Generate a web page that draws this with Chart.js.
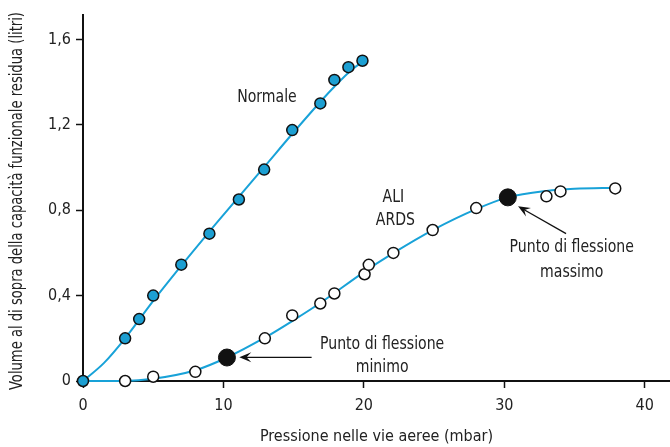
<!DOCTYPE html>
<html>
<head>
<meta charset="utf-8">
<script src="https://cdn.jsdelivr.net/npm/chart.js@4.4.1/dist/chart.umd.min.js"></script>
<style>
html,body{margin:0;padding:0;background:#fff;}
#wrap{width:670px;height:447px;position:relative;}
</style>
</head>
<body>
<div id="wrap"><canvas id="c" width="670" height="447"></canvas></div>
<script>
// ---- Data ----
const normalX = [0, 3, 4, 5, 7, 9, 11.1, 12.9, 14.9, 16.9, 17.9, 18.9, 19.9];
const normalY = [0, 0.20, 0.29, 0.40, 0.545, 0.69, 0.85, 0.99, 1.175, 1.30, 1.41, 1.47, 1.50];

const ardsX = [3, 5, 8, 12.95, 14.9, 16.9, 17.9, 20.05, 20.35, 22.1, 24.9, 28.0, 33.0, 34.0, 37.9];
const ardsY = [0, 0.02, 0.043, 0.20, 0.307, 0.363, 0.41, 0.50, 0.544, 0.60, 0.707, 0.81, 0.865, 0.888, 0.902];

const inflX = [10.25, 30.25];
const inflY = [0.11, 0.86];

// smooth fitted curves
const normalCurveX = [0, 1.5, 3, 5, 7, 9, 11, 13, 15, 17, 18, 19, 20];
const normalCurveY = [0, 0.085, 0.2, 0.375, 0.54, 0.70, 0.855, 1.01, 1.165, 1.315, 1.385, 1.45, 1.50];
const ardsCurveX = [0, 3, 5, 8, 10.25, 13, 15, 17, 20, 22, 25, 28, 30.25, 33, 35, 38];
const ardsCurveY = [0, 0, 0.01, 0.05, 0.11, 0.205, 0.285, 0.37, 0.51, 0.595, 0.71, 0.805, 0.86, 0.89, 0.90, 0.905];

const xTicks = [0, 10, 20, 30, 40];
const yTicks = [0, 0.4, 0.8, 1.2, 1.6];
const yTickLabels = ["0", "0,4", "0,8", "1,2", "1,6"];

const xTitle = "Pressione nelle vie aeree (mbar)";
const yTitle = "Volume al di sopra della capacità funzionale residua (litri)";

const FONT = '"Liberation Sans Narrow", "DejaVu Sans Condensed", sans-serif';
const LINE_BLUE = '#18a2d8';
const FILL_BLUE = '#1c9fd2';

const pts = (xs, ys) => xs.map((x, i) => ({x: x, y: ys[i]}));

// annotation texts (data coordinates)
const labels = [
  {text: "Normale", x: 13.1, y: 1.327},
  {text: "ALI", x: 22.1, y: 0.857},
  {text: "ARDS", x: 22.25, y: 0.749},
  {text: "Punto di flessione", x: 21.3, y: 0.172},
  {text: "minimo", x: 21.3, y: 0.062},
  {text: "Punto di flessione", x: 34.8, y: 0.623},
  {text: "massimo", x: 34.8, y: 0.508}
];
const arrows = [
  {x1: 16.28, y1: 0.111, x2: 11.13, y2: 0.111},
  {x1: 34.4, y1: 0.690, x2: 30.98, y2: 0.818}
];

function condensedText(ctx, text, x, y, sx) {
  ctx.save();
  ctx.translate(x, y);
  ctx.scale(sx, 1);
  ctx.fillText(text, 0, 0);
  ctx.restore();
}

const annot = {
  id: 'annot',
  afterDatasetsDraw(chart) {
    const ctx = chart.ctx, xs = chart.scales.x, ys = chart.scales.y;
    ctx.save();
    ctx.fillStyle = '#222';
    ctx.font = '17px ' + FONT;
    ctx.textAlign = 'center';
    ctx.textBaseline = 'middle';
    labels.forEach(l => condensedText(ctx, l.text, xs.getPixelForValue(l.x), ys.getPixelForValue(l.y), 0.92));
    ctx.strokeStyle = '#111';
    ctx.fillStyle = '#111';
    ctx.lineWidth = 1.3;
    arrows.forEach(a => {
      const x1 = xs.getPixelForValue(a.x1), y1 = ys.getPixelForValue(a.y1);
      const x2 = xs.getPixelForValue(a.x2), y2 = ys.getPixelForValue(a.y2);
      const ang = Math.atan2(y2 - y1, x2 - x1);
      const L = 12, W = 5;
      ctx.beginPath();
      ctx.moveTo(x1, y1);
      ctx.lineTo(x2 - Math.cos(ang) * 6, y2 - Math.sin(ang) * 6);
      ctx.stroke();
      ctx.beginPath();
      ctx.moveTo(x2, y2);
      ctx.lineTo(x2 - Math.cos(ang) * L - Math.sin(ang) * W, y2 - Math.sin(ang) * L + Math.cos(ang) * W);
      ctx.lineTo(x2 - Math.cos(ang) * (L * 0.6), y2 - Math.sin(ang) * (L * 0.6));
      ctx.lineTo(x2 - Math.cos(ang) * L + Math.sin(ang) * W, y2 - Math.sin(ang) * L - Math.cos(ang) * W);
      ctx.closePath();
      ctx.fill();
    });
    // rotated y-axis title, compressed to the reference width
    ctx.fillStyle = '#222';
    ctx.font = '17px ' + FONT;
    const w = ctx.measureText(yTitle).width;
    const target = 378;
    ctx.translate(18, 201);
    ctx.rotate(-Math.PI / 2);
    ctx.scale(Math.min(1, target / w), 1);
    ctx.fillText(yTitle, 0, 0);
    ctx.restore();
  }
};

new Chart(document.getElementById('c'), {
  type: 'scatter',
  data: {
    datasets: [
      {data: pts(inflX, inflY), pointRadius: 8.5, pointBackgroundColor: '#111', pointBorderColor: '#111', pointBorderWidth: 1, showLine: false, clip: false, order: 0},
      {data: pts(normalX, normalY), pointRadius: 5.5, pointBackgroundColor: FILL_BLUE, pointBorderColor: '#111', pointBorderWidth: 1.5, showLine: false, clip: false, order: 1},
      {data: pts(ardsX, ardsY), pointRadius: 5.5, pointBackgroundColor: '#fff', pointBorderColor: '#111', pointBorderWidth: 1.5, showLine: false, clip: false, order: 1},
      {data: pts(normalCurveX, normalCurveY), showLine: true, pointRadius: 0, borderColor: LINE_BLUE, borderWidth: 2, tension: 0.4, cubicInterpolationMode: 'monotone', clip: false, order: 2},
      {data: pts(ardsCurveX, ardsCurveY), showLine: true, pointRadius: 0, borderColor: LINE_BLUE, borderWidth: 2, tension: 0.4, cubicInterpolationMode: 'monotone', clip: false, order: 2}
    ]
  },
  options: {
    responsive: false,
    animation: false,
    events: [],
    layout: {autoPadding: false, padding: {top: 12, right: 0, left: 0, bottom: 0}},
    plugins: {legend: {display: false}, tooltip: {enabled: false}},
    scales: {
      x: {
        type: 'linear', min: 0, max: 41.8,
        afterBuildTicks: s => { s.ticks = xTicks.map(v => ({value: v})); },
        afterFit: s => { s.height = 66; s.paddingRight = 0; s.paddingLeft = 0; },
        grid: {display: true, drawOnChartArea: false, drawTicks: true, tickLength: 7, color: '#111', tickWidth: 1.5},
        border: {display: true, color: '#111', width: 2},
        ticks: {color: '#222', font: {family: FONT, size: 16}, padding: 8, maxRotation: 0, callback: v => String(v)},
        title: {display: true, text: xTitle, color: '#222', font: {family: FONT, size: 16}, padding: {top: 0, bottom: 1}}
      },
      y: {
        type: 'linear', min: 0, max: 1.716,
        afterBuildTicks: s => { s.ticks = yTicks.map(v => ({value: v})); },
        afterFit: s => { s.width = 83; },
        grid: {display: true, drawOnChartArea: false, drawTicks: true, tickLength: 7, color: '#111', tickWidth: 1.5},
        border: {display: true, color: '#111', width: 2},
        ticks: {color: '#222', font: {family: FONT, size: 16}, padding: 5, callback: v => yTickLabels[yTicks.indexOf(Math.round(v * 10) / 10)]},
        title: {display: false}
      }
    }
  },
  plugins: [annot]
});
</script>
</body>
</html>
